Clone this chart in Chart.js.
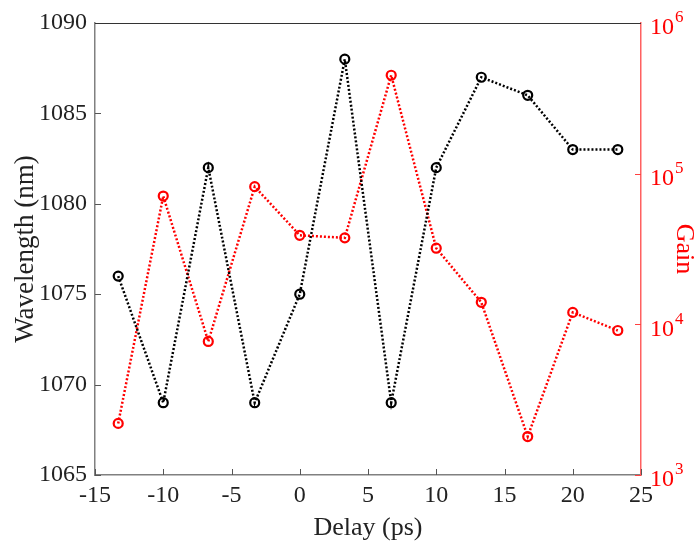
<!DOCTYPE html>
<html>
<head>
<meta charset="utf-8">
<script src="https://cdn.jsdelivr.net/npm/chart.js@4"></script>
<style>
  html, body { margin: 0; padding: 0; background: #fff; }
  #wrap { width: 697px; height: 545px; }
</style>
</head>
<body>
<div id="wrap"><canvas id="chart"></canvas></div>
<script>
const delays = [-13.3, -10, -6.7, -3.3, 0, 3.3, 6.7, 10, 13.3, 16.7, 20, 23.3];
const wavelength = [1076, 1069, 1082, 1069, 1075, 1088, 1069, 1082, 1087, 1086, 1083, 1083];
const gain = [2200, 71000, 7700, 82000, 39000, 37500, 450000, 32000, 14000, 1800, 12000, 9100];
const gainTicks = [1e3, 1e4, 1e5, 1e6];
const gainExponents = ['3', '4', '5', '6'];

const font = 'Liberation Serif, Times New Roman, serif';

function points(ys) {
  return delays.map((x, i) => ({ x, y: ys[i] }));
}

// MATLAB style ticks pointing into the plot, plus 10^n labels on the right
const axisExtras = {
  id: 'axisExtras',
  afterDatasetsDraw(chart) {
    const { ctx, chartArea: a, scales } = chart;
    ctx.save();
    ctx.lineWidth = 1;
    ctx.strokeStyle = '#555';
    scales.x.ticks.forEach(t => {
      const px = Math.round(scales.x.getPixelForValue(t.value)) + 0.5;
      ctx.beginPath();
      ctx.moveTo(px, a.bottom);
      ctx.lineTo(px, a.bottom - 6);
      ctx.stroke();
    });
    scales.y.ticks.forEach(t => {
      const py = Math.round(scales.y.getPixelForValue(t.value)) + 0.5;
      ctx.beginPath();
      ctx.moveTo(a.left, py);
      ctx.lineTo(a.left + 6, py);
      ctx.stroke();
    });
    ctx.strokeStyle = '#ff4040';
    gainTicks.forEach(v => {
      const py = Math.round(scales.y2.getPixelForValue(v)) + 0.5;
      ctx.beginPath();
      ctx.moveTo(a.right, py);
      ctx.lineTo(a.right - 6, py);
      ctx.stroke();
    });
    // top border
    ctx.strokeStyle = '#333';
    ctx.beginPath();
    ctx.moveTo(a.left, a.top + 0.5);
    ctx.lineTo(a.right, a.top + 0.5);
    ctx.stroke();

    // right axis labels as 10 with raised exponent
    ctx.fillStyle = '#ff0000';
    ctx.textAlign = 'left';
    ctx.textBaseline = 'middle';
    gainTicks.forEach((v, i) => {
      const py = scales.y2.getPixelForValue(v);
      const x0 = a.right + 9;
      ctx.font = `24px ${font}`;
      ctx.fillText('10', x0, py + 5);
      const w = ctx.measureText('10').width;
      ctx.font = `17px ${font}`;
      ctx.fillText(gainExponents[i], x0 + w + 1, py - 5);
    });
    ctx.restore();
  }
};

new Chart(document.getElementById('chart'), {
  type: 'line',
  data: {
    datasets: [
      {
        label: 'Wavelength',
        data: points(wavelength),
        yAxisID: 'y',
        borderColor: '#000',
        borderWidth: 2.5,
        borderDash: [2, 2],
        pointRadius: 4.5,
        pointBorderWidth: 2.2,
        pointBackgroundColor: 'rgba(0,0,0,0)',
        pointBorderColor: '#000',
        fill: false
      },
      {
        label: 'Gain',
        data: points(gain),
        yAxisID: 'y2',
        borderColor: '#ff0000',
        borderWidth: 2.5,
        borderDash: [2, 2],
        pointRadius: 4.5,
        pointBorderWidth: 2.2,
        pointBackgroundColor: 'rgba(0,0,0,0)',
        pointBorderColor: '#ff0000',
        fill: false
      }
    ]
  },
  options: {
    responsive: true,
    maintainAspectRatio: false,
    animation: false,
    layout: { padding: { top: 23, left: 0, right: 0, bottom: 0 } },
    plugins: { legend: { display: false }, tooltip: { enabled: false } },
    scales: {
      x: {
        type: 'linear',
        min: -15,
        max: 25,
        ticks: { stepSize: 5, color: '#222', font: { family: font, size: 24 }, padding: 6 },
        grid: { display: false, drawTicks: false },
        border: { color: '#808080', width: 1.5 },
        title: { display: true, text: 'Delay (ps)', color: '#222', font: { family: font, size: 26, lineHeight: 1 }, padding: { bottom: 4 } },
        afterFit(s) { s.height = 70; }
      },
      y: {
        type: 'linear',
        position: 'left',
        min: 1065,
        max: 1090,
        ticks: { stepSize: 5, color: '#222', font: { family: font, size: 24 }, padding: 8, callback: v => String(v) },
        grid: { display: false, drawTicks: false },
        border: { color: '#808080', width: 1.5 },
        title: { display: true, text: 'Wavelength (nm)', color: '#222', font: { family: font, size: 27, lineHeight: 1 }, padding: { top: 12 } },
        afterFit(s) { s.width = 95; }
      },
      y2: {
        type: 'logarithmic',
        position: 'right',
        min: 1e3,
        max: 1e6,
        afterBuildTicks(s) { s.ticks = gainTicks.map(v => ({ value: v })); },
        ticks: { display: false },
        grid: { display: false, drawTicks: false },
        border: { color: '#ff6060', width: 1.5 },
        title: { display: true, text: 'Gain', color: '#ff0000', font: { family: font, size: 26, lineHeight: 1 }, padding: { top: 0 } },
        afterFit(s) { s.width = 56; }
      }
    }
  },
  plugins: [axisExtras]
});
</script>
</body>
</html>
